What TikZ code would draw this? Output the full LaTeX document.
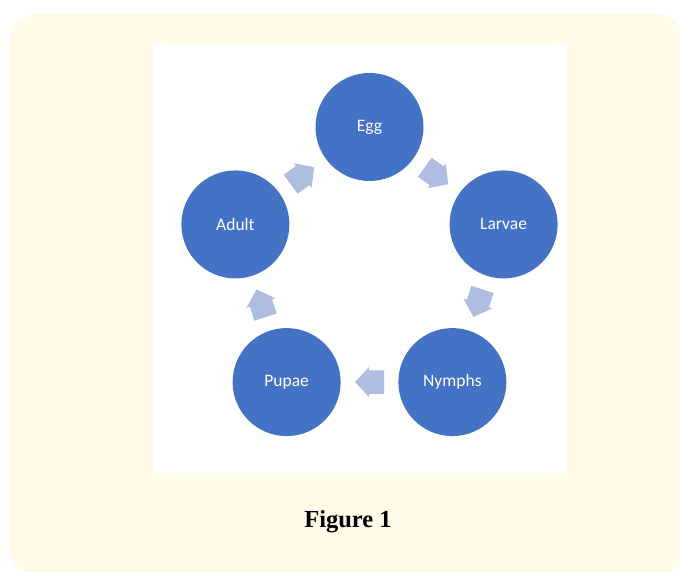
\documentclass[tikz,border=0pt]{standalone}
\usepackage{fontspec}
\newfontfamily\circfont{Carlito}
\newfontfamily\capfont{Liberation Serif}
\usetikzlibrary{shapes.arrows,calc}
\definecolor{panel}{RGB}{255,251,232}
\definecolor{stageblue}{RGB}{68,114,196}
\definecolor{arrowblue}{RGB}{174,189,224}
\tikzset{
  stage/.style={circle,fill=stageblue,minimum size=108pt,inner sep=0pt,
    text=white,font=\circfont\fontsize{17.5}{20}\selectfont},
  cyclearrow/.style={single arrow,fill=arrowblue,minimum height=29pt,
    text height=23pt,text depth=0pt,text width=0pt,inner sep=0pt,
    single arrow head extend=3.5pt,single arrow tip angle=94}
}
\begin{document}
\begin{tikzpicture}[x=1pt,y=1pt]
\useasboundingbox (0,0) rectangle (680,571);
\clip (0,0) rectangle (680,571);
\fill[panel,rounded corners=28pt] (10,-6) rectangle (684,557);
\fill[white] (153,98) rectangle (567,527);
\coordinate (c) at (369.5,303);
\node[stage] (egg) at ($(c)+(90:141)$) {Egg};
\node[stage] (larvae) at ($(c)+(18:141)$) {Larvae};
\node[stage] (nymphs) at ($(c)+(-54:141)$) {Nymphs};
\node[stage] (pupae) at ($(c)+(-126:141)$) {Pupae};
\node[stage] (adult) at ($(c)+(162:141)$) {Adult};
\node[cyclearrow,rotate=-36] (a1) at ($(egg)!0.5!(larvae)!5.5pt!(egg)$) {};
\node[cyclearrow,rotate=-108] (a2) at ($(larvae)!0.5!(nymphs)!5.5pt!(larvae)$) {};
\node[cyclearrow,rotate=180] (a3) at ($(nymphs)!0.5!(pupae)!5.5pt!(nymphs)$) {};
\node[cyclearrow,rotate=108] (a4) at ($(pupae)!0.5!(adult)!5.5pt!(pupae)$) {};
\node[cyclearrow,rotate=36] (a5) at ($(adult)!0.5!(egg)!5.5pt!(adult)$) {};
\node[font=\capfont\bfseries\fontsize{24.5}{28}\selectfont] (cap) at (348,49) {Figure 1};
\end{tikzpicture}
\end{document}
